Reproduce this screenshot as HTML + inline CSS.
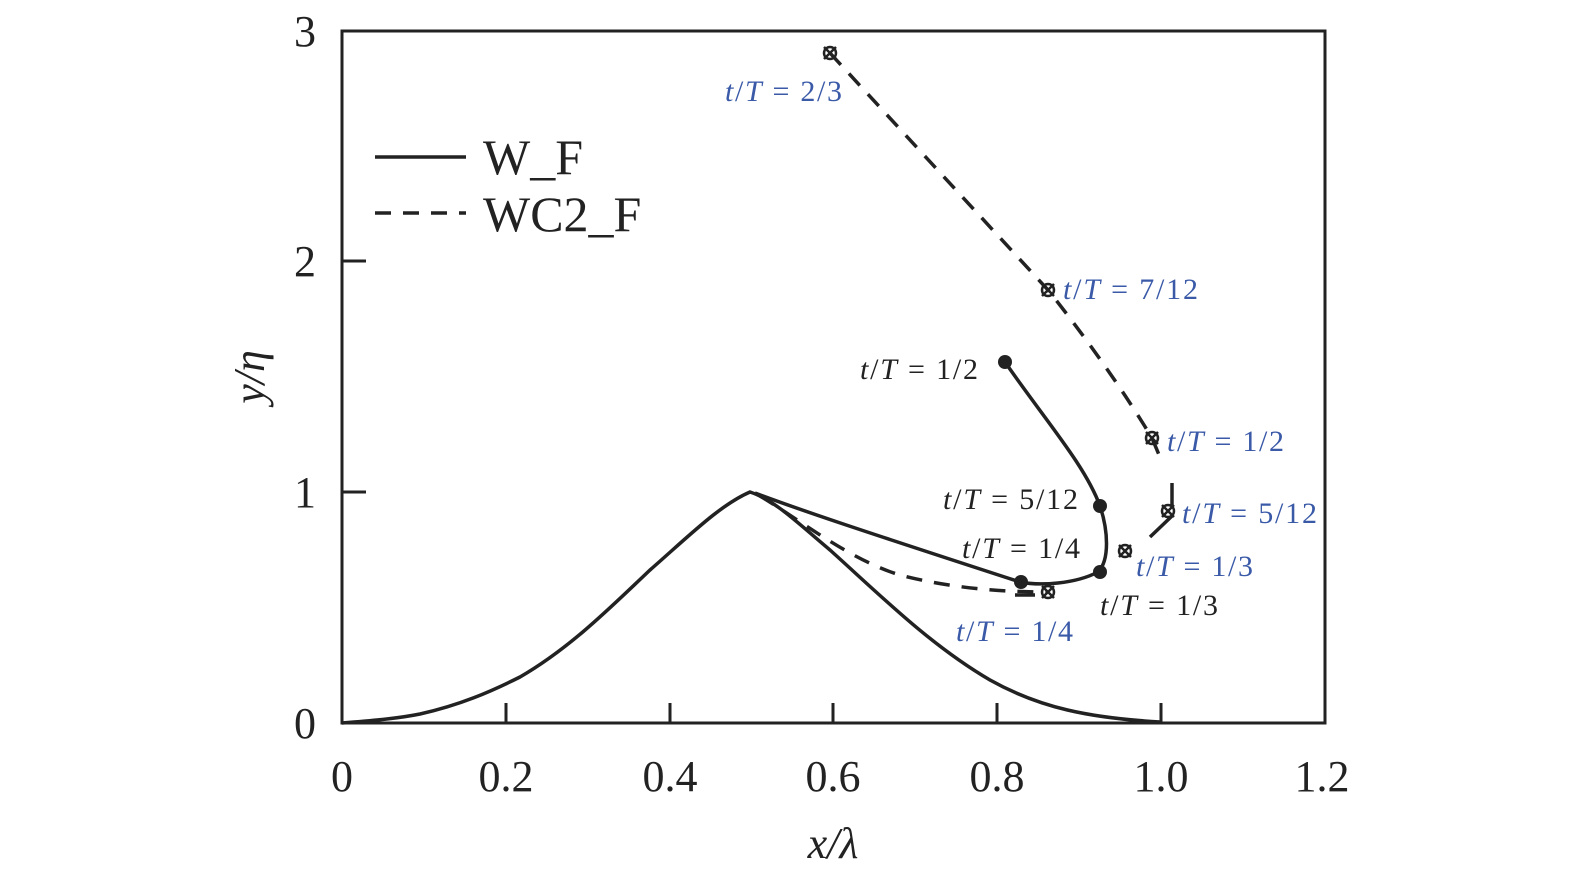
<!DOCTYPE html>
<html><head><meta charset="utf-8"><style>
html,body{margin:0;padding:0;background:#fff;}
svg text{font-family:"Liberation Serif",serif;}
</style></head><body>
<svg width="1575" height="879" viewBox="0 0 1575 879" xmlns="http://www.w3.org/2000/svg">
<rect x="342" y="31" width="983" height="692" fill="none" stroke="#222" stroke-width="3"/>
<g stroke="#222" stroke-width="3">
<line x1="506" y1="723" x2="506" y2="703"/><line x1="670" y1="723" x2="670" y2="703"/>
<line x1="833" y1="723" x2="833" y2="703"/><line x1="997" y1="723" x2="997" y2="703"/>
<line x1="1161" y1="723" x2="1161" y2="703"/>
<line x1="342" y1="492" x2="366" y2="492"/><line x1="342" y1="261" x2="366" y2="261"/>
</g>
<g font-size="44" fill="#222" text-anchor="middle">
<text x="342" y="791">0</text><text x="506" y="791">0.2</text><text x="670" y="791">0.4</text>
<text x="833" y="791">0.6</text><text x="997" y="791">0.8</text><text x="1161" y="791">1.0</text><text x="1322" y="791">1.2</text>
<text x="305" y="738">0</text><text x="305" y="507">1</text><text x="305" y="276">2</text><text x="305" y="46">3</text>
<text x="833" y="858" font-style="italic">x/λ</text>
<text transform="translate(264,377) rotate(-90)" font-style="italic">y/η</text>
</g>
<g fill="none" stroke="#222" stroke-width="3.5">
<path d="M342,723 C380,720 400,718 420,714 C460,705 490,692 520,677 C570,648 610,608 650,570 C690,535 720,505 750,492 C775,500 800,525 830,550 C880,595 930,645 990,680 C1040,708 1090,718 1160,722"/>
<path d="M755,493 C800,510 860,530 1020,582 C1040,586 1075,584 1098,572 C1110,560 1108,530 1100,506 C1085,465 1045,420 1005,362"/>
</g>
<g fill="none" stroke="#222" stroke-width="3.5" stroke-dasharray="16,12">
<path d="M760,496 C800,520 850,560 900,575 C950,588 1000,592 1048,592"/>
<path d="M830,53 L1048,290 C1080,330 1120,385 1152,438 L1162,462"/>
</g>
<g stroke="#222" stroke-width="3.5">
<line x1="1172" y1="483" x2="1172" y2="505"/>
<line x1="1150" y1="537" x2="1172" y2="516"/>
<line x1="1015" y1="595" x2="1035" y2="595"/>
</g>
<g fill="#222">
<circle cx="1021" cy="582" r="7"/><circle cx="1100" cy="572" r="7"/>
<circle cx="1100" cy="506" r="7"/><circle cx="1005" cy="362" r="7"/>
</g>
<g fill="none" stroke="#222" stroke-width="2.5">
<g transform="translate(830,53)"><circle r="6"/><path d="M-6,-6L6,6M-6,6L6,-6"/></g>
<g transform="translate(1048,290)"><circle r="6"/><path d="M-6,-6L6,6M-6,6L6,-6"/></g>
<g transform="translate(1152,438)"><circle r="6"/><path d="M-6,-6L6,6M-6,6L6,-6"/></g>
<g transform="translate(1168,511)"><circle r="6"/><path d="M-6,-6L6,6M-6,6L6,-6"/></g>
<g transform="translate(1125,551)"><circle r="6"/><path d="M-6,-6L6,6M-6,6L6,-6"/></g>
<g transform="translate(1048,592)"><circle r="6"/><path d="M-6,-6L6,6M-6,6L6,-6"/></g>
</g>
<line x1="375" y1="157" x2="466" y2="157" stroke="#222" stroke-width="3.5"/>
<line x1="375" y1="213" x2="466" y2="213" stroke="#222" stroke-width="3.5" stroke-dasharray="16,12"/>
<g font-size="50" fill="#222"><text x="483" y="174">W_F</text><text x="483" y="231">WC2_F</text></g>
<g font-size="30" fill="#222">
<text x="860" y="379" textLength="118"><tspan font-style="italic">t</tspan>/<tspan font-style="italic">T</tspan> = 1/2</text>
<text x="943" y="509" textLength="135"><tspan font-style="italic">t</tspan>/<tspan font-style="italic">T</tspan> = 5/12</text>
<text x="962" y="558" textLength="118"><tspan font-style="italic">t</tspan>/<tspan font-style="italic">T</tspan> = 1/4</text>
<text x="1100" y="615" textLength="118"><tspan font-style="italic">t</tspan>/<tspan font-style="italic">T</tspan> = 1/3</text>
</g>
<g font-size="30" fill="#3a5aa8">
<text x="725" y="101" textLength="117"><tspan font-style="italic">t</tspan>/<tspan font-style="italic">T</tspan> = 2/3</text>
<text x="1063" y="299" textLength="135"><tspan font-style="italic">t</tspan>/<tspan font-style="italic">T</tspan> = 7/12</text>
<text x="1167" y="451" textLength="117"><tspan font-style="italic">t</tspan>/<tspan font-style="italic">T</tspan> = 1/2</text>
<text x="1182" y="523" textLength="135"><tspan font-style="italic">t</tspan>/<tspan font-style="italic">T</tspan> = 5/12</text>
<text x="1136" y="576" textLength="117"><tspan font-style="italic">t</tspan>/<tspan font-style="italic">T</tspan> = 1/3</text>
<text x="956" y="641" textLength="117"><tspan font-style="italic">t</tspan>/<tspan font-style="italic">T</tspan> = 1/4</text>
</g>
</svg>
</body></html>
